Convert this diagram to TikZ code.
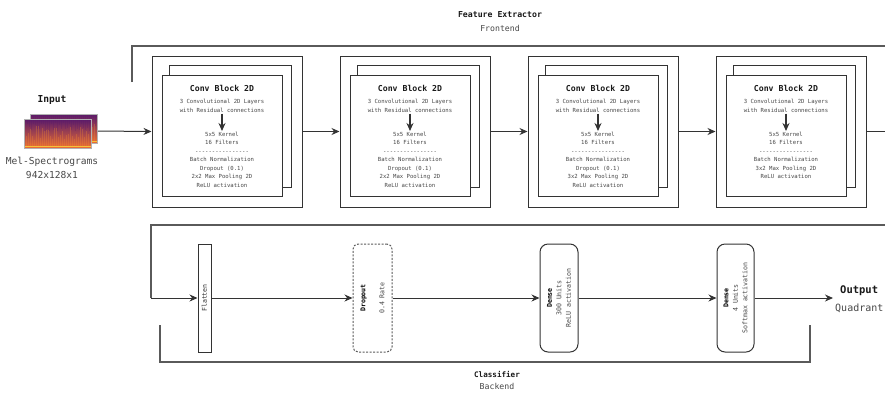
\documentclass[tikz,border=0pt]{standalone}
\usepackage{fontspec}
\setmonofont{DejaVu Sans Mono}
\usetikzlibrary{arrows.meta,positioning,calc}

\definecolor{frameline}{HTML}{5A5A5A}
\definecolor{boxline}{HTML}{333333}
\definecolor{softtext}{HTML}{474747}
\definecolor{specTop}{HTML}{5A1A6A}
\definecolor{specMid}{HTML}{B0306A}
\definecolor{specBot}{HTML}{EE7030}
\definecolor{specEdge}{HTML}{F6C23A}

\tikzset{
  frame/.style={draw=frameline, line width=1.4pt},
  link/.style={draw=boxline, line width=1pt, ->},
  block/.style={draw=boxline, line width=1pt, fill=white, inner sep=0pt},
  layer/.style={draw=boxline, line width=1pt, fill=white, inner sep=0pt, minimum height=108},
  title/.style={font=\ttfamily\bfseries\fontsize{8.2}{9}\selectfont, text=black!90, inner sep=0pt},
  desc/.style={font=\ttfamily\fontsize{5.6}{8.5}\selectfont, text=softtext, align=center, inner sep=1pt},
  vtext/.style={font=\ttfamily\fontsize{6.6}{9.5}\selectfont, text=softtext, align=center, rotate=90, inner sep=0pt},
  big/.style={font=\ttfamily\fontsize{9.6}{12}\selectfont, text=softtext, inner sep=0pt}
}

\begin{document}
\begin{tikzpicture}[x=1pt,y=-1pt,>={Stealth[length=8pt,width=7pt]}]
  \useasboundingbox (0,0) rectangle (885,392);

  % Input: two stacked spectrograms
  \pgfmathsetseed{17}
  \foreach \sx/\sy in {30/114, 24/119} {
    \shade[top color=specTop, middle color=specMid, bottom color=specBot] (\sx,\sy) rectangle ++(67,29);
    \foreach \k in {1,...,32} {
      \pgfmathsetmacro\h{6+14*rnd}
      \draw[specBot!70!specEdge, opacity=.3, line width=.9pt] (\sx+2*\k,\sy+27) -- ++(0,-\h);
      \pgfmathsetmacro\g{4+8*rnd}
      \draw[specTop, opacity=.25, line width=.7pt] (\sx+2*\k+1,\sy) -- ++(0,\g);
    }
    \fill[specEdge] (\sx,\sy+26.8) rectangle ++(67,1.4);
    \draw[gray!60, line width=.6pt] (\sx,\sy) rectangle ++(67,29);
  }
  \coordinate (spec) at (98,131);
  \node[title, font=\ttfamily\bfseries\fontsize{9.6}{12}\selectfont] (in) at (52,100) {Input};
  \node[big] (mel) at (52,162) {Mel-Spectrograms};
  \node[big] (dim) at (52,175) {942x128x1};

  % Frontend
  \node[title] (fe) at (500,15) {Feature Extractor};
  \node[title, font=\ttfamily\fontsize{8.2}{9}\selectfont, text=softtext] (fe-sub) at (500,28) {Frontend};
  \coordinate (fe-a) at (132,82);
  \coordinate (fe-b) at (132,46);
  \coordinate (fe-c) at (885,46);
  \draw[frame] (fe-a) -- (fe-b) -- (fe-c);

  % Conv blocks
  \foreach \i/\pool/\drop in {1/2x2/{Dropout (0.1)\\}, 2/2x2/{Dropout (0.1)\\}, 3/3x2/{Dropout (0.1)\\}, 4/3x2/{}} {
    \begin{scope}[xshift={(\i-1)*188}]
      \node[block, minimum width=150, minimum height=151] (o\i) at (227,131.5) {};
      \node[block, minimum size=122] (b\i) at (230,126) {};
      \node[block, minimum width=120, minimum height=121] (f\i) at (222,135.5) {};
      \node[title] (t\i) at (222,88) {Conv Block 2D};
      \node[desc] (c\i) at (222,106) {3 Convolutional 2D Layers\\with Residual connections};
      \node[desc, anchor=north] (k\i) at (222,131) {5x5 Kernel\\16 Filters\\----------------\\Batch Normalization\\\drop\pool\ Max Pooling 2D\\ReLU activation};
      \draw[link, line width=1.3pt] (c\i) -- (k\i);
    \end{scope}
  }
  \draw[link] (spec) -- (o1.west);
  \foreach \i [evaluate=\i as \j using int(\i+1)] in {1,2,3}
    \draw[link] (o\i.east) -- (o\j.west);
  \coordinate (fe-out) at (885,131.5);
  \draw[draw=boxline, line width=1pt] (o4.east) -- (fe-out);

  % Backend
  \coordinate (cl-a) at (885,225);
  \coordinate (cl-b) at (151,225);
  \coordinate (cl-c) at (151,298);
  \node[layer, minimum width=13] (fl) at (204.5,298) {};
  \node[vtext, text=boxline] (fl-t) at (fl) {Flatten};
  \node[layer, draw=frameline, dash pattern=on 2pt off 1.5pt, rounded corners=5, minimum width=39] (dr) at (372.5,298) {};
  \node[vtext] (dr-t) at (dr) {\textbf{\textcolor{black}{Dropout}}\\[9.5pt]0.4 Rate};
  \node[layer, rounded corners=8, minimum width=38] (d1) at (559,298) {};
  \node[vtext] (d1-t) at (d1) {\textbf{\textcolor{black}{Dense}}\\300 Units\\ReLU activation};
  \node[layer, rounded corners=8, minimum width=37] (d2) at (735.5,298) {};
  \node[vtext] (d2-t) at (d2) {\textbf{\textcolor{black}{Dense}}\\4 Units\\Softmax activation};
  \coordinate (out) at (833,298);
  \node[title, anchor=west, font=\ttfamily\bfseries\fontsize{10.5}{12}\selectfont] (out-t) at (840,291) {Output};
  \node[big, anchor=west, font=\ttfamily\fontsize{10}{12}\selectfont] (out-q) at (835,308) {Quadrant};

  \draw[frame] (cl-a) -- (cl-b) -- (cl-c);
  \draw[link] (cl-c) -- (fl.west);
  \draw[link] (fl.east) -- (dr.west);
  \draw[link] (dr.east) -- (d1.west);
  \draw[link] (d1.east) -- (d2.west);
  \draw[link] (d2.east) -- (out);

  % bracket under the classifier
  \coordinate (br-a) at (160,325);
  \coordinate (br-b) at (160,362);
  \coordinate (br-c) at (810,362);
  \coordinate (br-d) at (810,325);
  \draw[frame, line width=1.2pt] (br-a) -- (br-b) -- (br-c) -- (br-d);
  \node[title, font=\ttfamily\bfseries\fontsize{7.6}{9}\selectfont] (cl) at (497,374) {Classifier};
  \node[title, font=\ttfamily\fontsize{8.2}{9}\selectfont, text=softtext] (cl-sub) at (497,386) {Backend};
\end{tikzpicture}
\end{document}
